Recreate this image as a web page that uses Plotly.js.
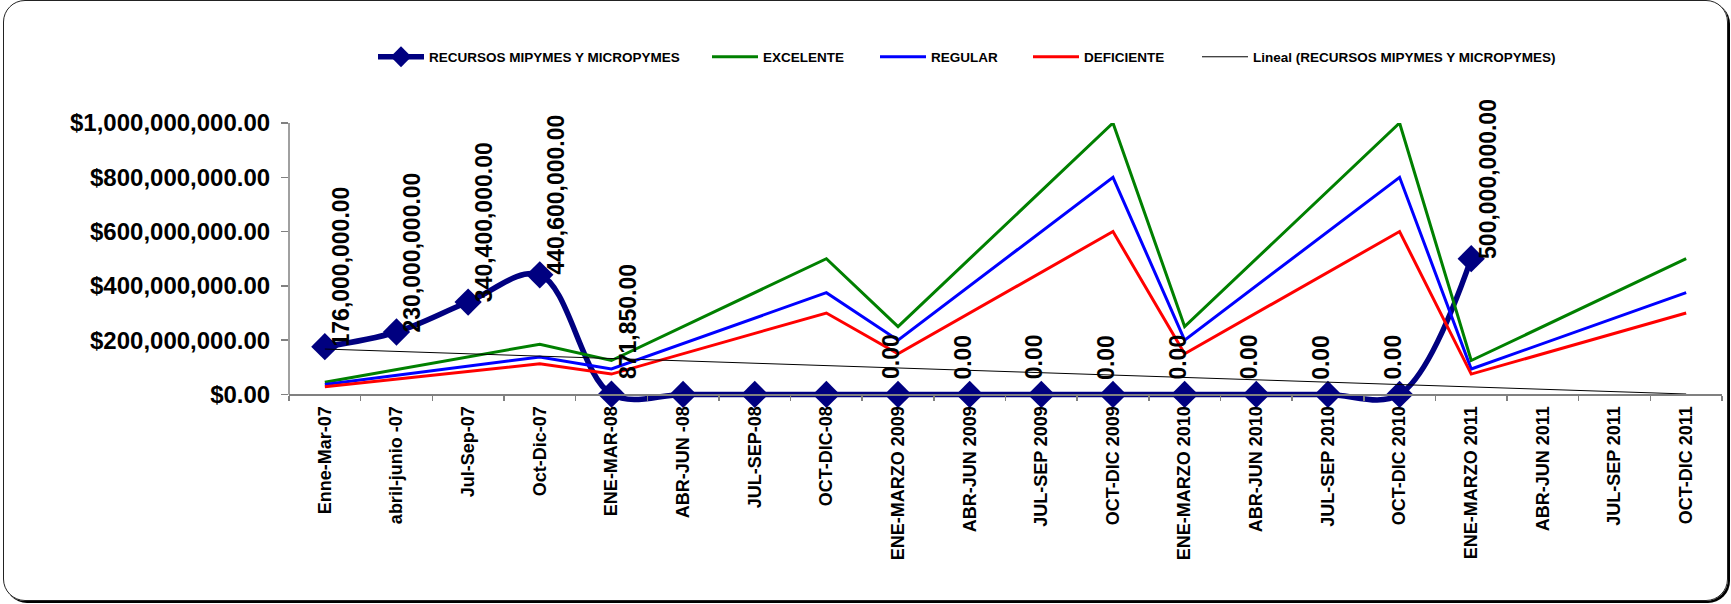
<!DOCTYPE html>
<html>
<head>
<meta charset="utf-8">
<script src="https://cdn.plot.ly/plotly-3.0.1.min.js"></script>
<style>
  html, body { margin: 0; padding: 0; background: #fff; overflow: hidden; }
  #wrap { position: relative; width: 1731px; height: 604px; }
  #chart { position: absolute; left: 0; top: 0; width: 1731px; height: 604px; }
  #frame { position: absolute; left: 3px; top: 0px; width: 1725px; height: 601px; box-sizing: border-box;
           border: 1.5px solid #222; border-radius: 22px; box-shadow: 2px 2px 0 #000; pointer-events: none; }
</style>
</head>
<body>
<div id="wrap"><div id="chart"></div><div id="frame"></div></div>
<script>
// ---- data ----
const categories = ["Enne-Mar-07","abril-junio -07","Jul-Sep-07","Oct-Dic-07","ENE-MAR-08","ABR-JUN -08","JUL-SEP-08","OCT-DIC-08",
  "ENE-MARZO 2009","ABR-JUN 2009","JUL-SEP 2009","OCT-DIC 2009","ENE-MARZO 2010","ABR-JUN 2010","JUL-SEP 2010","OCT-DIC 2010",
  "ENE-MARZO 2011","ABR-JUN 2011","JUL-SEP 2011","OCT-DIC 2011"];
const recursos = [176000000, 230000000, 340400000, 440600000, 871850, 0, 0, 0,
  0, 0, 0, 0, 0, 0, 0, 0, 500000000, null, null, null];
const recursosLabels = ["176,000,000.00","230,000,000.00","340,400,000.00","440,600,000.00","871,850.00","","","",
  "0.00","0.00","0.00","0.00","0.00","0.00","0.00","0.00","500,000,000.00","","",""];
const excelente = [45e6, 92e6, 138e6, 185e6, 125e6, 250e6, 375e6, 500e6,
  250e6, 500e6, 750e6, 1000e6, 250e6, 500e6, 750e6, 1000e6, 125e6, 250e6, 375e6, 500e6];
const regular = [37e6, 70e6, 104e6, 138e6, 93.75e6, 187.5e6, 281.25e6, 375e6,
  200e6, 400e6, 600e6, 800e6, 200e6, 400e6, 600e6, 800e6, 93.75e6, 187.5e6, 281.25e6, 375e6];
const deficiente = [28e6, 56e6, 85e6, 113e6, 75e6, 150e6, 225e6, 300e6,
  150e6, 300e6, 450e6, 600e6, 150e6, 300e6, 450e6, 600e6, 75e6, 150e6, 225e6, 300e6];
const yTicks = [0, 200000000, 400000000, 600000000, 800000000, 1000000000];
const seriesNames = ["RECURSOS MIPYMES Y MICROPYMES","EXCELENTE","REGULAR","DEFICIENTE","Lineal (RECURSOS MIPYMES Y MICROPYMES)"];

// ---- linear trend (least squares over all periods) ----
const n = categories.length;
const ys = recursos.map(v => v == null ? 0 : v);
const xs = ys.map((_, i) => i + 1);
const mx = xs.reduce((a, b) => a + b, 0) / n, my = ys.reduce((a, b) => a + b, 0) / n;
let sxy = 0, sxx = 0;
for (let i = 0; i < n; i++) { sxy += (xs[i] - mx) * (ys[i] - my); sxx += (xs[i] - mx) ** 2; }
const slope = sxy / sxx, intercept = my - slope * mx;
const trend = xs.map(x => intercept + slope * x);

const FONT = "Liberation Sans, Arial, Helvetica, sans-serif";
const legendIds = ["legend", "legend2", "legend3", "legend4", "legend5"];

const traces = [
  { x: categories, y: recursos, name: seriesNames[0], legend: legendIds[0], type: "scatter", mode: "lines+markers",
    line: { color: "#000080", width: 5.5, shape: "spline", smoothing: 1 },
    marker: { symbol: "diamond", size: 21, color: "#000080" }, cliponaxis: false },
  { x: categories, y: excelente, name: seriesNames[1], legend: legendIds[1], type: "scatter", mode: "lines",
    line: { color: "#008000", width: 3 } },
  { x: categories, y: regular, name: seriesNames[2], legend: legendIds[2], type: "scatter", mode: "lines",
    line: { color: "#0000FF", width: 3 } },
  { x: categories, y: deficiente, name: seriesNames[3], legend: legendIds[3], type: "scatter", mode: "lines",
    line: { color: "#FF0000", width: 3 } },
  { x: categories, y: trend, name: seriesNames[4], legend: legendIds[4], type: "scatter", mode: "lines",
    line: { color: "#000000", width: 1 } }
];

const annotations = [];
recursosLabels.forEach((t, i) => {
  if (!t) return;
  const small = recursos[i] < 5e6;
  annotations.push({
    x: categories[i], y: recursos[i], xref: "x", yref: "y", text: t, textangle: -90, showarrow: false,
    xanchor: "left", yanchor: "bottom", xshift: (small && recursos[i] === 0) ? -22 : 1, yshift: small ? 13 : -2,
    font: { family: FONT, size: 23, weight: "bold", color: "#000" }
  });
});

const ML = 289, MR = 9, W = 1731;
const PW = W - ML - MR;
const legendLeftPx = [373, 707, 875, 1028, 1197];
const legendBase = { orientation: "h", xanchor: "left", y: 1.2316, yanchor: "middle",
  font: { family: FONT, size: 13.5, weight: "bold", color: "#000" }, itemwidth: 46,
  bgcolor: "rgba(0,0,0,0)", borderwidth: 0 };

const yMin = -50e6, yMax = 1e9;
const layout = {
  width: W, height: 604,
  margin: { l: ML, r: MR, t: 123, b: 196, pad: 0 },
  paper_bgcolor: "#ffffff", plot_bgcolor: "#ffffff",
  font: { family: FONT, color: "#000" },
  showlegend: true,
  xaxis: { type: "category", categoryarray: categories, range: [-0.5, categories.length - 0.5],
    anchor: "free", position: (0 - yMin) / (yMax - yMin),
    showline: true, linecolor: "#808080", linewidth: 1.5, ticks: "outside", ticklen: 5, tickcolor: "#808080",
    tickwidth: 1.5, tickson: "boundaries", tickangle: -90, ticklabelstandoff: 3,
    tickfont: { family: FONT, size: 18, weight: "bold", color: "#000" }, showgrid: false, zeroline: false },
  yaxis: { range: [yMin, yMax], tickvals: yTicks, tickformat: "$,.2f", ticks: "outside", ticklen: 7,
    tickcolor: "#808080", tickwidth: 1.5, ticklabelstandoff: 6,
    tickfont: { family: FONT, size: 24, weight: "bold", color: "#000" }, showgrid: false, zeroline: false, showline: false },
  shapes: [{ type: "line", xref: "paper", yref: "y", x0: 0, x1: 0, y0: 0, y1: yMax,
    line: { color: "#808080", width: 1.5 }, layer: "above" }],
  annotations: annotations
};
legendIds.forEach((id, k) => {
  layout[id] = Object.assign({}, legendBase, { x: (legendLeftPx[k] - ML) / PW });
});

Plotly.newPlot("chart", traces, layout, { displayModeBar: false, staticPlot: true });
</script>
</body>
</html>
